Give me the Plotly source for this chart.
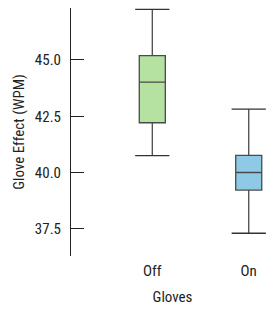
import plotly.graph_objects as go

categories = ["Off", "On"]
x_pos = [0, 1]
lower_whisker = [40.75, 37.3]
q1 = [42.21, 39.22]
median = [44.02, 40.0]
q3 = [45.19, 40.76]
upper_whisker = [47.25, 42.82]
fill_colors = ["#b5e2a1", "#8ecae6"]
y_ticks = [37.5, 40.0, 42.5, 45.0]

FONT = "Roboto Condensed, DejaVu Sans Condensed, Liberation Sans Narrow, Arial Narrow, Liberation Sans, sans-serif"
BOX_W = 0.27
CAP_W = 0.355

fig = go.Figure()
for i, cat in enumerate(categories):
    fig.add_trace(go.Box(
        x=[x_pos[i]], q1=[q1[i]], median=[median[i]], q3=[q3[i]],
        lowerfence=[lower_whisker[i]], upperfence=[upper_whisker[i]],
        width=BOX_W, whiskerwidth=0, fillcolor=fill_colors[i],
        line=dict(color="#4a4a4a", width=1.3), name=cat,
        boxpoints=False, hoverinfo="skip", showlegend=False))
    cx, cy = [], []
    for v in (lower_whisker[i], upper_whisker[i]):
        cx += [x_pos[i] - CAP_W / 2, x_pos[i] + CAP_W / 2, None]
        cy += [v, v, None]
    fig.add_trace(go.Scatter(x=cx, y=cy, mode="lines",
                             line=dict(color="#333333", width=1.3),
                             hoverinfo="skip", showlegend=False))

fig.update_layout(
    width=274, height=313,
    margin=dict(l=71, r=0, t=8, b=57),
    paper_bgcolor="white", plot_bgcolor="white",
    font=dict(family=FONT, size=15, color="#222222"),
    xaxis=dict(range=[-0.843, 1.262], tickvals=x_pos, ticktext=categories,
               showline=False, showgrid=False, zeroline=False, ticks="",
               ticklabelstandoff=4,
               title=dict(text="Gloves", standoff=12,
                          font=dict(family=FONT, size=15))),
    yaxis=dict(range=[36.29, 47.31], tickvals=y_ticks,
               ticktext=[f"{v:.1f}" for v in y_ticks],
               showline=True, linecolor="#222222", linewidth=1,
               ticks="inside", ticklen=13, tickcolor="#222222", tickwidth=1,
               showgrid=False, zeroline=False, ticklabelstandoff=6,
               title=dict(text="Glove Effect (WPM)", standoff=6,
                          font=dict(family=FONT, size=15))),
)

fig.write_html("out.html")
